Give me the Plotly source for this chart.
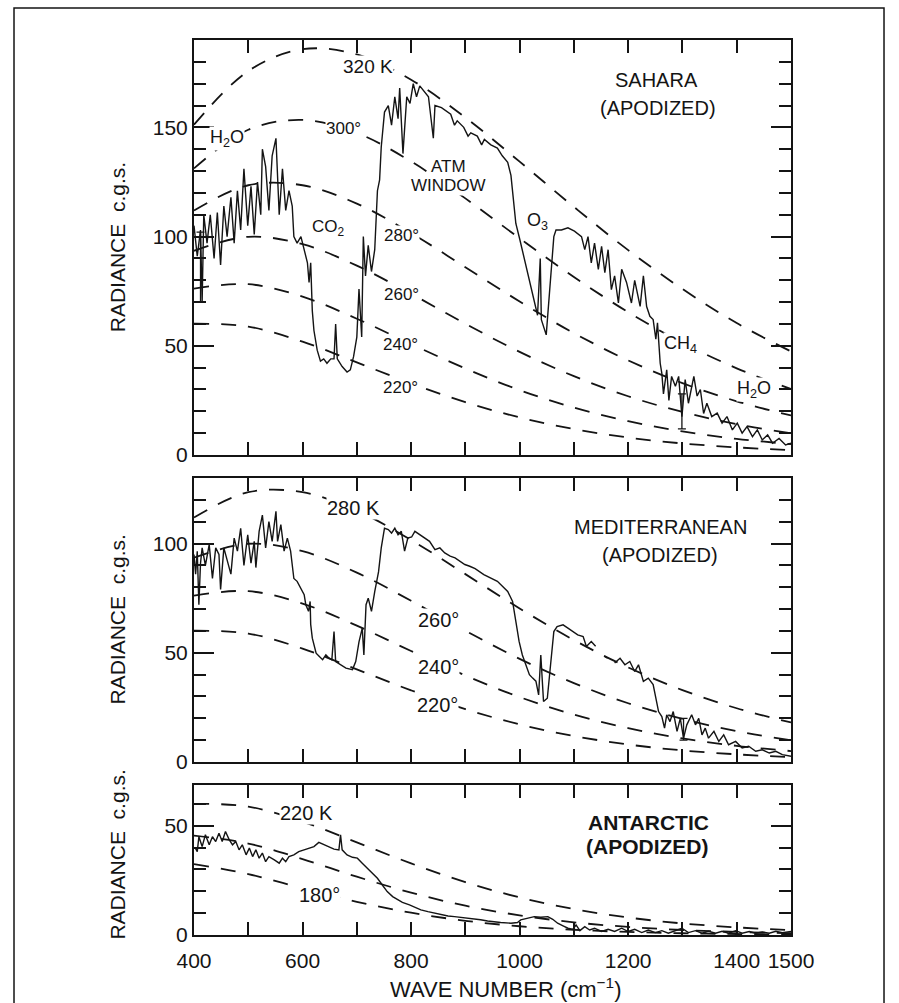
import plotly.graph_objects as go

# ---------------- spectra: wave number (cm^-1) and radiance (c.g.s.) ----------------
sahara_wn = [400, 406, 412, 415, 418, 424, 430, 437, 443, 449, 455, 461, 468, 474, 480, 486,
             492, 499, 505, 511, 517, 523, 526, 532, 538, 544, 551, 557, 563, 569, 575, 581,
             584, 590, 597, 603, 609, 612, 615, 618, 621, 627, 633, 639, 645, 652, 658, 661,
             664, 673, 682, 688, 694, 700, 704, 709, 712, 716, 721, 727, 733, 738, 742, 745,
             751, 758, 764, 770, 776, 779, 785, 792, 798, 804, 810, 816, 822, 832, 841, 844,
             856, 866, 873, 880, 885, 897, 905, 910, 922, 930, 935, 947, 959, 968, 978, 984,
             989, 993, 1000, 1009, 1018, 1027, 1033, 1038, 1040, 1049, 1057, 1063, 1067, 1077,
             1089, 1101, 1114, 1120, 1126, 1132, 1138, 1145, 1151, 1157, 1163, 1169, 1175, 1182,
             1188, 1197, 1206, 1212, 1222, 1228, 1234, 1240, 1246, 1251, 1254, 1259, 1262, 1265,
             1271, 1275, 1280, 1287, 1293, 1299, 1305, 1311, 1321, 1327, 1333, 1339, 1345, 1354,
             1364, 1373, 1382, 1392, 1401, 1410, 1419, 1429, 1438, 1447, 1457, 1466, 1478, 1490,
             1500]
sahara_rad = [105, 91, 103, 70, 110, 97, 110, 90, 111, 87, 114, 100, 118, 97, 121, 103,
              131, 105, 123, 101, 125, 110, 140, 132, 112, 137, 145, 110, 131, 112, 121, 114,
              100, 97, 100, 94, 88, 79, 88, 66, 57, 48, 43, 44, 42, 44, 44, 60,
              44, 40.5, 38, 39, 45, 54, 76, 54, 100, 82, 96, 84, 94, 121, 126, 141,
              157, 160, 151, 164, 154, 168, 138, 164, 161, 170, 164, 169, 167, 164, 145, 160,
              159, 157, 156, 151, 153, 150, 146, 147.5, 146, 142, 144.5, 142, 140.5, 137, 134, 128,
              115, 106, 99, 89.5, 79, 71, 64, 90, 62, 55, 79, 100, 103, 103,
              104, 102.5, 100, 94, 100, 88, 97, 85, 95.5, 83.5, 94, 75.7, 82, 69.6,
              85, 79, 69.6, 80, 68, 82, 68, 63.5, 62, 53, 60.5, 42, 37.4, 28,
              39, 25, 36, 31.5, 36, 17.6, 34.5, 23.7, 36, 27, 30, 19, 23.7, 17.6,
              19.2, 14.6, 17.6, 11.5, 14.6, 10, 13, 8.4, 11.5, 6.9, 9.2, 5.4, 7.6, 4.6,
              5.4]

# None marks the short stretch where the trace is broken
med_wn = [400, 403, 406, 409, 412, 415, 421, 428, 434, 440, 446, 449, 455, 461, 468, 474,
          480, 486, 492, 499, 505, 511, 514, 520, 526, 532, 538, 544, 551, 554, 560, 566,
          572, 578, 584, 590, 597, 603, 606, 611, 614, 615, 618, 625, 631, 637, 643, 649,
          654, 658, 661, 670, 680, 692, 698, 704, 710, 713, 717, 721, 727, 733, 740, 745,
          751, 758, 764, 770, 776, 782, 788, 794, 801, 807, 816, 825, 834, 844, 853, 862,
          872, 881, 890, 899, 908, 918, 934, 959, 978, 987, 993, 999, 1005, 1012, 1018, 1024,
          1030, 1035, 1039, 1044, 1051, 1057, 1063, 1069, 1080, 1089, 1098, 1107, 1117, 1123,
          1132, 1140, 1146, 1156, 1162, 1168, 1175, 1185, 1194, 1203, 1212, 1219, 1228, 1237,
          1246, 1251, 1256, 1262, 1267, 1271, 1277, 1283, 1290, 1296, 1302, 1308, 1317, 1324,
          1330, 1336, 1342, 1348, 1358, 1367, 1376, 1385, 1398, 1410, 1422, 1435, 1447, 1460,
          1472, 1484, 1500]
med_rad = [95, 86, 96.5, 72, 91, 98, 90, 99.5, 84, 98, 95, 79, 98, 93, 86, 102.5,
           96.5, 107, 90, 104, 91, 101, 89, 105.6, 113, 98, 110, 101, 114.8, 101, 108.7, 96.5,
           102.5, 96.5, 84, 82.7, 79.6, 76.6, 72, 69, 73.5, 63, 56.7, 49.8, 48.3, 46.8, 49, 47.5,
           46.8, 59.7, 46, 44.5, 43, 42.3, 46, 55, 61.3, 49, 72, 75, 69, 78, 87, 98,
           107, 106.4, 104.8, 107, 104, 105.6, 96.5, 102.5, 103, 105.6, 104, 102.5, 101, 97.2, 98, 95.7,
           94.2, 93.4, 91.9, 90.4, 89.6, 88.5, 85.8, 82.7, 78.1, 73.5, 64.4, 55.2, 49, 44.5, 40, 38.4,
           37, 30.7, 49, 27.7, 29.2, 44.5, 59.7, 62, 62.8, 61.3, 59.7, 58.2, 57.4, 52.9,
           55.2, 53, None, 48.5, 47.5, None, 45.3, 47.5, 44.5, 46, 41.4, 44.5, 36.9, 38.4,
           35.4, 29.2, 23.1, 20.8, 15.5, 21.6, 18.5, 23.1, 14, 20, 10.9, 17, 21.6, 17,
           20, 12.4, 15.5, 10.9, 14, 9.4, 12.4, 7.9, 9.4, 6.4, 7.2, 4.9, 5.6, 4.1,
           4.9, 3.4, 2.6]

antarctic_wn = [402, 406, 409, 415, 421, 428, 434, 440, 446, 452, 458, 465, 471, 477, 483, 489,
                496, 502, 508, 514, 520, 526, 532, 538, 548, 557, 563, 569, 575, 584, 593, 603,
                612, 621, 630, 639, 649, 658, 667, 670, 673, 682, 692, 701, 710, 719, 729, 738,
                747, 756, 766, 775, 784, 797, 806, 818, 831, 843, 855, 868, 880, 892, 905, 917,
                928, 941, 953, 965, 984, 996, 1002, 1015, 1027, 1039, 1052, 1061, 1070, 1080, 1089, 1098,
                1104, 1111, 1120, 1129, 1138, 1151, 1163, 1175, 1188, 1200, 1212, 1225, 1237, 1250, 1262, 1274,
                1287, 1299, 1311, 1324, 1336, 1348, 1361, 1373, 1385, 1398, 1410, 1423, 1435, 1447, 1460, 1472,
                1484, 1500]
antarctic_rad = [40, 38.2, 45, 40.5, 45.9, 41.3, 45, 42.8, 46.6, 42.8, 47.4, 43.6, 41.3, 42.8, 39, 41.3,
                 36.7, 39.8, 35.9, 39, 35.2, 37.5, 33.6, 35.9, 34.4, 32.9, 35.2, 33.6, 35.9, 36.7, 38.2, 39,
                 39.8, 40.5, 42.4, 41.3, 40.2, 39.3, 39, 45.9, 39, 36.7, 35.6, 35.2, 32.9, 30.6, 28.3, 26,
                 22.9, 19.9, 17.6, 16.1, 14.9, 13.8, 12.7, 11.5, 10.7, 10, 9.2, 8.7, 8.4, 8.1, 7.7, 7.3,
                 7, 6.4, 6, 5.7, 5.4, 5.7, 6.9, 7.7, 8.4, 8.1, 8.4, 7.2, 5.4, 4.2, 3.1, 2.6,
                 4.6, 2, 3.8, 2.3, 3.1, 1.6, 2.6, 1.6, 3.1, 1.6, 2.6, 1.1, 2.3, 1.1, 2, 0.8,
                 2, 3.1, 1.1, 2, 0.8, 1.7, 0.8, 1.7, 0.8, 2, 0.8, 1.6, 0.8, 1.4, 0.8, 1.7,
                 1.1, 1.6]

# noise-level bars drawn on the spectra: position, centre, half-length
sahara_bar_wn, sahara_bar_mid, sahara_bar_half = [412, 1299], [86, 20], [16, 8]
med_bar_wn, med_bar_mid, med_bar_half = [1302], [15], [5]

# ---------------- black-body reference curves (radiance at each wave number) ----------------
bb_wn = [400, 500, 600, 700, 800, 900, 1000, 1100, 1200, 1300, 1400, 1500]
bb_320 = [151.2, 175.8, 185.8, 183.4, 171.8, 154.5, 134.3, 113.6, 93.8, 76.0, 60.4, 47.4]
bb_300 = [131.2, 148.9, 153.4, 147.4, 134.4, 117.5, 99.2, 81.5, 65.4, 51.4, 39.7, 30.2]
bb_280 = [111.9, 123.5, 123.5, 115.1, 101.6, 86.0, 70.3, 55.8, 43.3, 32.9, 24.6, 18.1]
bb_260 = [93.5, 99.9, 96.5, 86.7, 73.8, 60.1, 47.2, 36.1, 26.9, 19.7, 14.1, 10.0]
bb_240 = [76.2, 78.2, 72.5, 62.4, 50.8, 39.6, 29.7, 21.7, 15.5, 10.8, 7.4, 5.0]
bb_220 = [60.1, 58.8, 51.9, 42.4, 32.8, 24.2, 17.2, 11.9, 8.0, 5.3, 3.5, 2.2]
bb_200 = [45.5, 41.9, 34.8, 26.7, 19.4, 13.4, 9.0, 5.8, 3.7, 2.3, 1.4, 0.8]
bb_180 = [32.5, 27.9, 21.4, 15.2, 10.2, 6.5, 4.0, 2.4, 1.4, 0.8, 0.45, 0.25]

# labelled wave numbers; unlabelled hundreds get minor ticks
x_tick_vals = [400, 600, 800, 1000, 1200, 1400, 1500]
x_tick_text = ["400", "600", "800", "1000", "1200", "1400", "1500"]

FONT = "Liberation Sans"
INK = "#141414"

# panel geometry: (x axis id, y axis id, y domain, y max)
panels = {
    "sahara": ("x", "y", [0.5363, 1.0], 190),
    "med": ("x2", "y2", [0.1933, 0.5106], 130),
    "ant": ("x3", "y3", [0.0, 0.1676], 68.7),
}

fig = go.Figure()


def add_spectrum(panel, wn, rad):
    xa, ya, _, _ = panels[panel]
    fig.add_trace(go.Scatter(x=wn, y=rad, mode="lines", xaxis=xa, yaxis=ya,
                             line=dict(color=INK, width=1.4), connectgaps=False,
                             hoverinfo="skip"))


def add_blackbody(panel, rad):
    xa, ya, _, _ = panels[panel]
    fig.add_trace(go.Scatter(x=bb_wn, y=rad, mode="lines", xaxis=xa, yaxis=ya,
                             line=dict(color=INK, width=1.8, dash="15px,12px",
                                       shape="spline", smoothing=1.0),
                             hoverinfo="skip"))


def add_bars(panel, wn, mid, half):
    xa, ya, _, _ = panels[panel]
    fig.add_trace(go.Scatter(x=wn, y=mid, mode="markers", xaxis=xa, yaxis=ya,
                             marker=dict(size=1, color=INK),
                             error_y=dict(type="data", array=half, visible=True,
                                          color=INK, thickness=1.3, width=4),
                             hoverinfo="skip"))


for curve in [bb_320, bb_300, bb_280, bb_260, bb_240, bb_220]:
    add_blackbody("sahara", curve)
for curve in [bb_280, bb_260, bb_240, bb_220]:
    add_blackbody("med", curve)
for curve in [bb_220, bb_200, bb_180]:
    add_blackbody("ant", curve)

add_spectrum("sahara", sahara_wn, sahara_rad)
add_spectrum("med", med_wn, med_rad)
add_spectrum("ant", antarctic_wn, antarctic_rad)
add_bars("sahara", sahara_bar_wn, sahara_bar_mid, sahara_bar_half)
add_bars("med", med_bar_wn, med_bar_mid, med_bar_half)

# ---------------- axes ----------------
layout_axes = {}
for name, (xa, ya, dom, ymax) in panels.items():
    xkey = "xaxis" if xa == "x" else "xaxis" + xa[1:]
    ykey = "yaxis" if ya == "y" else "yaxis" + ya[1:]
    bottom = name == "ant"
    layout_axes[xkey] = dict(
        domain=[0, 1], range=[400, 1500], anchor=ya,
        tickmode="array", tickvals=x_tick_vals, ticktext=x_tick_text,
        showticklabels=bottom, ticks="inside", ticklen=13, tickwidth=2, tickcolor=INK,
        minor=dict(tickmode="linear", tick0=400, dtick=100, ticks="inside",
                   ticklen=13, tickwidth=2, tickcolor=INK, showgrid=False),
        showline=True, linewidth=2, linecolor=INK, mirror="allticks",
        showgrid=False, zeroline=False, automargin=False,
        tickfont=dict(family=FONT, size=21, color=INK), ticklabelstandoff=6,
    )
    layout_axes[ykey] = dict(
        domain=dom, range=[0, ymax], anchor=xa,
        tickmode="linear", tick0=0, dtick=50,
        ticks="inside", ticklen=20, tickwidth=2, tickcolor=INK,
        minor=dict(tickmode="linear", tick0=0, dtick=10, ticks="inside",
                   ticklen=12, tickwidth=1.6, tickcolor=INK, showgrid=False),
        showline=True, linewidth=2, linecolor=INK, mirror="allticks",
        showgrid=False, zeroline=False, automargin=False,
        tickfont=dict(family=FONT, size=21, color=INK),
    )


# ---------------- text ----------------
def label(panel, x, y, text, size=18, bold=False, bg=True):
    xa, ya, _, _ = panels[panel]
    t = f"<b>{text}</b>" if bold else text
    return dict(x=x, y=y, xref=xa, yref=ya, text=t, showarrow=False,
                xanchor="center", yanchor="middle",
                font=dict(family=FONT, size=size, color=INK),
                bgcolor="white" if bg else None, borderpad=0)


annotations = [
    # Sahara
    label("sahara", 720, 177.7, "320 K", 19),
    label("sahara", 675, 149.3, "300°", 17),
    label("sahara", 461, 145.1, "H<sub>2</sub>O", 18),
    label("sahara", 647, 103.9, "CO<sub>2</sub>", 17),
    label("sahara", 783, 100.7, "280°", 17),
    label("sahara", 783, 73.3, "260°", 17),
    label("sahara", 780, 50.4, "240°", 17),
    label("sahara", 780, 31.1, "220°", 17),
    label("sahara", 868, 131.9, "ATM", 17),
    label("sahara", 868, 123.6, "WINDOW", 17),
    label("sahara", 1032, 106.7, "O<sub>3</sub>", 18),
    label("sahara", 1296, 50.4, "CH<sub>4</sub>", 18),
    label("sahara", 1432, 29.8, "H<sub>2</sub>O", 18),
    label("sahara", 1253, 171.7, "SAHARA", 20, bg=False),
    label("sahara", 1255, 158.9, "(APODIZED)", 20, bg=False),
    # Mediterranean
    label("med", 694, 116.3, "280 K", 20),
    label("med", 850, 65.0, "260°", 20),
    label("med", 850, 43.5, "240°", 20),
    label("med", 848, 26.1, "220°", 20),
    label("med", 1259, 107.6, "MEDITERRANEAN", 20, bg=False),
    label("med", 1259, 94.8, "(APODIZED)", 20, bg=False),
    # Antarctic
    label("ant", 608, 55.7, "220 K", 20),
    label("ant", 632, 18.3, "180°", 20),
    label("ant", 1237, 51.6, "ANTARCTIC", 21, bold=True, bg=False),
    label("ant", 1236, 40.6, "(APODIZED)", 21, bold=True, bg=False),
]

# y-axis titles, one per panel
for yc in [0.768, 0.352, 0.0894]:
    annotations.append(dict(x=-0.128, y=yc, xref="paper", yref="paper",
                            text="RADIANCE&nbsp;&nbsp;c.g.s.", textangle=-90,
                            showarrow=False, xanchor="center", yanchor="middle",
                            font=dict(family=FONT, size=21, color=INK)))

annotations.append(dict(x=0.521, y=-0.0592, xref="paper", yref="paper",
                        text="WAVE NUMBER (cm<sup>\u22121</sup>)", showarrow=False,
                        xanchor="center", yanchor="middle",
                        font=dict(family=FONT, size=22, color=INK)))

fig.update_layout(
    template="none",
    width=899, height=1003,
    margin=dict(l=194, r=108, t=40, b=68, autoexpand=False),
    paper_bgcolor="white", plot_bgcolor="white",
    showlegend=False,
    annotations=annotations,
    shapes=[dict(type="rect", xref="paper", yref="paper",
                 x0=-0.3015, x1=1.1558, y0=-0.2, y1=1.0358,
                 line=dict(color=INK, width=1.5), fillcolor="rgba(0,0,0,0)",
                 layer="below")],
    **layout_axes,
)

fig.write_html("out.html")
